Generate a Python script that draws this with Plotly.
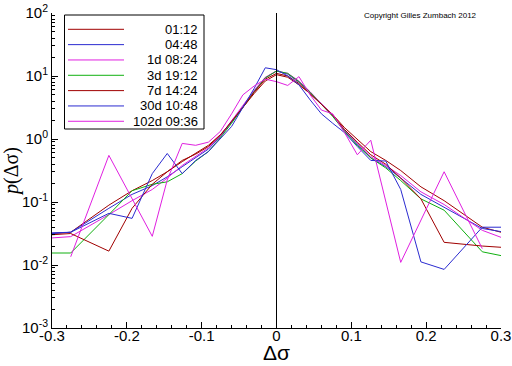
import plotly.graph_objects as go

# Bin centres (delta sigma)
x_bins = [-0.3, -0.275, -0.224, -0.193, -0.166, -0.146, -0.126, -0.108, -0.091, -0.075,
          -0.06, -0.045, -0.03, -0.015, 0.0, 0.015, 0.03, 0.045, 0.06, 0.075,
          0.091, 0.108, 0.126, 0.146, 0.166, 0.193, 0.224, 0.275, 0.3]

series_names = ["01:12", "04:48", "1d 08:24", "3d 19:12", "7d 14:24", "30d 10:48", "102d 09:36"]
series_colors = ["#a00000", "#2b2bd0", "#e020e0", "#10b010", "#a00000", "#2b2bd0", "#e020e0"]

p_0112 = [0.0316, 0.0331, 0.0891, 0.151, 0.219, 0.302, 0.437, 0.603, 0.794, 1.17,
          1.86, 3.16, 5.25, 8.32, 10.5, 9.55, 7.24, 5.25, 3.63, 2.45,
          1.51, 1.0, 0.631, 0.457, 0.316, 0.174, 0.105, 0.0398, 0.0331]
p_0448 = [0.0316, 0.0331, 0.0794, 0.132, 0.182, 0.251, 0.363, 0.501, 0.692, 1.10,
          1.86, 3.31, 5.75, 9.33, 12.0, 10.7, 7.94, 5.50, 3.55, 2.34,
          1.35, 0.832, 0.501, 0.363, 0.240, 0.132, 0.0832, 0.0380, 0.0339]
p_1d0824 = [0.0269, 0.0282, 0.0631, 0.105, 0.158, 0.240, 0.380, 0.525, 0.724, 1.12,
            1.91, 3.39, 5.89, 9.55, 12.0, 11.0, 8.32, 5.62, 3.63, 2.40,
            1.38, 0.871, 0.525, 0.380, 0.263, 0.145, 0.0912, 0.0355, 0.0275]
p_3d1912 = [0.0155, 0.0155, 0.0631, 0.151, 0.191, 0.209, 0.282, 0.447, 0.631, 1.05,
            1.78, 3.16, 5.62, 9.33, 12.0, 11.0, 8.13, 5.50, 3.55, 2.29,
            1.32, 0.794, 0.501, 0.347, 0.219, 0.112, 0.0741, 0.0162, 0.0141]
p_7d1424 = [0.0302, 0.0316, 0.0166, 0.0794, 0.191, 0.302, 0.457, 0.575, 0.759, 1.15,
            1.91, 3.16, 5.50, 8.91, 11.0, 10.0, 7.59, 5.25, 3.55, 2.40,
            1.41, 0.891, 0.562, 0.398, 0.240, 0.112, 0.0229, 0.0200, 0.0191]
p_30d1048 = [0.0324, 0.0331, 0.0661, 0.0550, 0.282, 0.589, 0.282, 0.457, 0.631, 1.0,
             1.58, 3.16, 6.31, 13.5, 12.6, 10.0, 7.24, 4.17, 2.51, 1.78,
             1.26, 0.759, 0.457, 0.447, 0.158, 0.0112, 0.00851, 0.0398, 0.0398]
p_102d0936 = [None, 0.0135, 0.550, None, 0.0285, 0.224, 0.851, 0.794, 0.891, 1.32,
              2.51, 5.01, 6.92, 8.91, 8.13, 7.08, 9.77, 5.01, 2.88, 2.51,
              1.26, 0.562, 0.955, None, 0.0110, None, 0.302, 0.0182, None]

series_values = [p_0112, p_0448, p_1d0824, p_3d1912, p_7d1424, p_30d1048, p_102d0936]

x_tick_vals = [-0.3, -0.2, -0.1, 0.0, 0.1, 0.2, 0.3]
x_tick_text = ["-0.3", "-0.2", "-0.1", "0", "0.1", "0.2", "0.3"]
y_tick_vals = [1e-3, 1e-2, 1e-1, 1e0, 1e1, 1e2]
y_tick_text = ["10<sup>-3</sup>", "10<sup>-2</sup>", "10<sup>-1</sup>", "10<sup>0</sup>",
               "10<sup>1</sup>", "10<sup>2</sup>"]
x_minor_vals = [round(-0.3 + 0.02 * i, 2) for i in range(31)]
y_minor_vals = [m * 10.0 ** e for e in range(-3, 2) for m in range(2, 10)]

FONT = "Liberation Sans, Arial, sans-serif"

fig = go.Figure()
for name, color, vals in zip(series_names, series_colors, series_values):
    fig.add_trace(go.Scatter(x=x_bins, y=vals, mode="lines", name=name,
                             line=dict(color=color, width=1), connectgaps=True,
                             showlegend=False, hoverinfo="skip"))

W, H = 512, 366
# plot area in page pixels: left 52, right 501, top 13, bottom 328
ml, mt = 52, 13
mr = W - 501
mb = H - 328
pw, ph = W - ml - mr, H - mt - mb


def px(xp):  # page pixel -> paper
    return (xp - ml) / pw


def py(yp):
    return (H - mb - yp) / ph


shapes = [
    dict(type="line", xref="x", yref="paper", x0=0, x1=0, y0=0, y1=1,
         line=dict(color="black", width=1)),
    dict(type="rect", xref="paper", yref="paper", x0=px(64.5), x1=px(204),
         y0=py(129), y1=py(15), line=dict(color="black", width=1), fillcolor="white"),
]
annotations = []
for i, (name, color) in enumerate(zip(series_names, series_colors)):
    yy = py(29.3 + i * 15.33)
    shapes.append(dict(type="line", xref="paper", yref="paper", x0=px(68), x1=px(124),
                       y0=yy, y1=yy, line=dict(color=color, width=1)))
    annotations.append(dict(xref="paper", yref="paper", x=px(200), y=yy, text=name,
                            showarrow=False, xanchor="right", yanchor="middle",
                            font=dict(family=FONT, size=13, color="black")))

annotations.append(dict(xref="paper", yref="paper", x=px(420), y=py(16),
                        text="Copyright Gilles Zumbach 2012", showarrow=False,
                        xanchor="center", yanchor="middle",
                        font=dict(family=FONT, size=8, color="black")))
annotations.append(dict(xref="paper", yref="paper", x=px(276.5), y=py(352),
                        text="Δσ", showarrow=False, xanchor="center", yanchor="middle",
                        font=dict(family=FONT, size=21, color="black")))
annotations.append(dict(xref="paper", yref="paper", x=px(11), y=py(172),
                        text="<i>p</i>(Δσ)", showarrow=False, textangle=-90,
                        xanchor="center", yanchor="middle",
                        font=dict(family="Liberation Serif, Times New Roman, serif", size=20,
                                  color="black")))

fig.update_layout(
    width=W, height=H,
    margin=dict(l=ml, r=mr, t=mt, b=mb, autoexpand=False),
    paper_bgcolor="white", plot_bgcolor="white",
    shapes=shapes, annotations=annotations,
    showlegend=False, hovermode=False,
    font=dict(family=FONT, color="black"),
)
fig.update_xaxes(
    range=[-0.3, 0.3], showgrid=False, zeroline=False, automargin=False,
    showline=True, linecolor="black", linewidth=1, mirror=False,
    ticks="inside", ticklen=6, tickcolor="black", tickwidth=1,
    tickmode="array", tickvals=x_tick_vals, ticktext=x_tick_text,
    tickfont=dict(family=FONT, size=15, color="black"), ticklabelstandoff=-6,
    ticklabeloverflow="allow",
    minor=dict(ticks="inside", ticklen=3, tickcolor="black", tickmode="array",
               tickvals=x_minor_vals, showgrid=False),
)
fig.update_yaxes(
    type="log", range=[-3, 2], showgrid=False, zeroline=False, automargin=False,
    showline=True, linecolor="black", linewidth=1, mirror=False,
    ticks="inside", ticklen=6, tickcolor="black", tickwidth=1,
    tickmode="array", tickvals=y_tick_vals, ticktext=y_tick_text,
    tickfont=dict(family=FONT, size=15, color="black"),
    ticklabeloverflow="allow",
    minor=dict(ticks="inside", ticklen=3, tickcolor="black", tickmode="array",
               tickvals=y_minor_vals, showgrid=False),
)

fig.write_html("out.html", config={"displayModeBar": False},
               post_script="document.body.style.margin='0px';")
